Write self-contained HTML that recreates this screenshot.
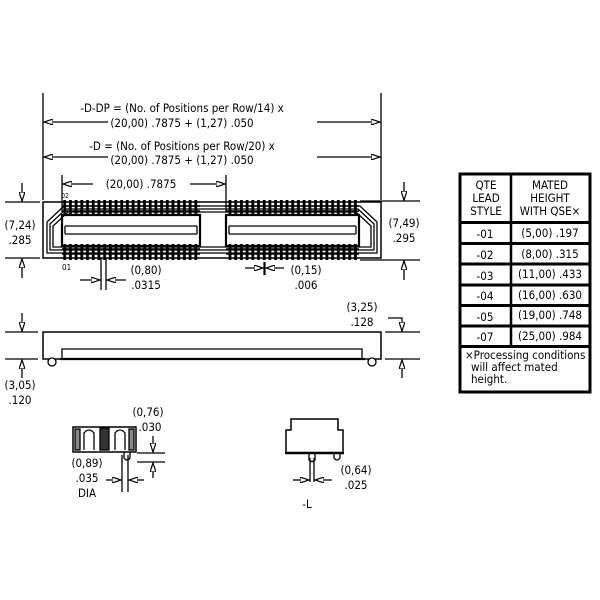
<!DOCTYPE html>
<html><head><meta charset="utf-8"><style>
html,body{margin:0;padding:0;background:#fff}
svg{display:block}
text{font-family:"DejaVu Sans Condensed","Liberation Sans Narrow","Liberation Sans",sans-serif;font-size:11.5px;fill:#000}
</style></head><body>
<svg width="600" height="600" viewBox="0 0 600 600" xmlns="http://www.w3.org/2000/svg">
<defs>
<marker id="a" markerWidth="10" markerHeight="6" refX="9" refY="3" orient="auto" markerUnits="userSpaceOnUse">
<path d="M0,0 L9,3 L0,6 Z" fill="#fff" stroke="#000" stroke-width="1.2"/></marker>
<pattern id="pins" x="62" y="0" width="5.7" height="10" patternUnits="userSpaceOnUse">
<rect x="1.3" y="0" width="2.8" height="10" fill="#000"/></pattern>
<pattern id="dots" x="62" y="0" width="6" height="10" patternUnits="userSpaceOnUse">
<circle cx="3" cy="359" r="1.8" fill="#000"/></pattern>
</defs>
<g stroke="#000" fill="none" stroke-width="1.3">
<line x1="43" y1="93" x2="43" y2="200"/>
<line x1="381" y1="93" x2="381" y2="200"/>
<line x1="108" y1="122" x2="44" y2="122" marker-end="url(#a)"/>
<line x1="317" y1="122" x2="380" y2="122" marker-end="url(#a)"/>
<line x1="108" y1="157" x2="44" y2="157" marker-end="url(#a)"/>
<line x1="317" y1="157" x2="380" y2="157" marker-end="url(#a)"/>
<line x1="62" y1="175" x2="62" y2="212"/>
<line x1="226" y1="175" x2="226" y2="212"/>
<line x1="93" y1="184" x2="63" y2="184" marker-end="url(#a)"/>
<line x1="190" y1="184" x2="225" y2="184" marker-end="url(#a)"/>
<rect x="43" y="202" width="338" height="56" stroke-width="1.5"/>
<path d="M47,253 V222 L64,206 H360 L377,222 V253 Z"/>
<path d="M50,250 V224 L66,209 H358 L374,224 V250 Z"/>
<path d="M53,247 V226 L68,212 H356 L371,226 V247 Z"/>
<rect x="62" y="200" width="138" height="16" fill="url(#pins)" stroke="none"/>
<rect x="62" y="244" width="138" height="16" fill="url(#pins)" stroke="none"/>
<rect x="226" y="200" width="133" height="16" fill="url(#pins)" stroke="none"/>
<rect x="226" y="244" width="133" height="16" fill="url(#pins)" stroke="none"/>
<line x1="62" y1="206" x2="200" y2="206" stroke-width="1.5"/>
<line x1="62" y1="211" x2="200" y2="211" stroke-width="1.5"/>
<line x1="62" y1="249" x2="200" y2="249" stroke-width="1.5"/>
<line x1="62" y1="254" x2="200" y2="254" stroke-width="1.5"/>
<line x1="226" y1="206" x2="359" y2="206" stroke-width="1.5"/>
<line x1="226" y1="211" x2="359" y2="211" stroke-width="1.5"/>
<line x1="226" y1="249" x2="359" y2="249" stroke-width="1.5"/>
<line x1="226" y1="254" x2="359" y2="254" stroke-width="1.5"/>
<rect x="62" y="215" width="138" height="31" stroke-width="2.2"/>
<rect x="226" y="215" width="133" height="31" stroke-width="2.2"/>
<path d="M65,226 H197 M65,234 H197 M65,226 V234 M197,226 V234"/>
<path d="M229,226 H356 M229,234 H356 M229,226 V234 M356,226 V234"/>
<line x1="5" y1="202" x2="40" y2="202"/>
<line x1="5" y1="258" x2="40" y2="258"/>
<line x1="22" y1="183" x2="22" y2="201" marker-end="url(#a)"/>
<line x1="22" y1="278" x2="22" y2="259" marker-end="url(#a)"/>
<line x1="360" y1="201" x2="420" y2="201"/>
<line x1="360" y1="260" x2="420" y2="260"/>
<line x1="404" y1="182" x2="404" y2="200" marker-end="url(#a)"/>
<line x1="404" y1="280" x2="404" y2="261" marker-end="url(#a)"/>
<line x1="101" y1="258" x2="101" y2="290"/>
<line x1="106" y1="258" x2="106" y2="290"/>
<line x1="80" y1="280" x2="100" y2="280" marker-end="url(#a)"/>
<line x1="126" y1="280" x2="107" y2="280" marker-end="url(#a)"/>
<line x1="245" y1="268" x2="263" y2="268" marker-end="url(#a)"/>
<line x1="284" y1="268" x2="266" y2="268" marker-end="url(#a)"/>
<line x1="264.5" y1="262" x2="264.5" y2="275" stroke-width="2.2"/>
<rect x="43" y="332" width="338" height="27" stroke-width="1.5"/>
<path d="M62,359 V349 H362 V359"/>
<rect x="62" y="355" width="300" height="8" fill="url(#dots)" stroke="none"/>
<circle cx="52" cy="362" r="4" fill="#fff"/>
<circle cx="372" cy="362" r="4" fill="#fff"/>
<line x1="60" y1="359" x2="365" y2="359" stroke-width="2.2"/>
<line x1="5" y1="332" x2="38" y2="332"/>
<line x1="5" y1="359" x2="38" y2="359"/>
<line x1="22" y1="313" x2="22" y2="331" marker-end="url(#a)"/>
<line x1="22" y1="378" x2="22" y2="360" marker-end="url(#a)"/>
<line x1="385" y1="332" x2="420" y2="332"/>
<line x1="385" y1="359" x2="420" y2="359"/>
<path d="M388,318 H402 V331" marker-end="url(#a)"/>
<line x1="402" y1="378" x2="402" y2="360" marker-end="url(#a)"/>
<rect x="73" y="427" width="63" height="25" stroke-width="1.5"/>
<rect x="75" y="429" width="5" height="21" fill="#888"/>
<rect x="129" y="429" width="5" height="21" fill="#888"/>
<rect x="100" y="428" width="9" height="22" fill="#333"/>
<path d="M84,450 V433 Q89,427 94,433 V450 M115,450 V433 Q120,427 125,433 V450"/>
<path d="M124,452 V458 Q127,462 130,458 V452"/>
<line x1="137" y1="453" x2="165" y2="453"/>
<line x1="137" y1="462" x2="165" y2="462"/>
<line x1="153" y1="436" x2="153" y2="452" marker-end="url(#a)"/>
<line x1="153" y1="478" x2="153" y2="463" marker-end="url(#a)"/>
<line x1="122" y1="455" x2="122" y2="492"/>
<line x1="128" y1="455" x2="128" y2="492"/>
<line x1="106" y1="480" x2="121" y2="480" marker-end="url(#a)"/>
<line x1="144" y1="480" x2="129" y2="480" marker-end="url(#a)"/>
<path d="M286,453 V430 H291 V419 H338 V430 H343 V453 Z" stroke-width="1.5"/>
<line x1="285" y1="453" x2="344" y2="453" stroke-width="2.4"/>
<path d="M309,453 V460 Q312,463 315,460 V453"/>
<path d="M334,453 V458 Q337,462 340,458 V453"/>
<line x1="310" y1="458" x2="310" y2="482"/>
<line x1="314" y1="458" x2="314" y2="482"/>
<line x1="293" y1="480" x2="309" y2="480" marker-end="url(#a)"/>
<line x1="332" y1="480" x2="315" y2="480" marker-end="url(#a)"/>
<rect x="460" y="174" width="130" height="218" stroke-width="3"/>
<line x1="511" y1="174" x2="511" y2="346" stroke-width="2.5"/>
<g stroke-width="3">
<line x1="460" y1="222.5" x2="590" y2="222.5"/>
<line x1="460" y1="243.5" x2="590" y2="243.5"/>
<line x1="460" y1="264" x2="590" y2="264"/>
<line x1="460" y1="285" x2="590" y2="285"/>
<line x1="460" y1="305.5" x2="590" y2="305.5"/>
<line x1="460" y1="326" x2="590" y2="326"/>
<line x1="460" y1="346.5" x2="590" y2="346.5"/>
</g>
</g>
<g text-anchor="middle">
<text x="182" y="112">-D-DP = (No. of Positions per Row/14) x</text>
<text x="182" y="127">(20,00) .7875 + (1,27) .050</text>
<text x="182" y="150">-D = (No. of Positions per Row/20) x</text>
<text x="182" y="164">(20,00) .7875 + (1,27) .050</text>
<text x="141" y="188">(20,00) .7875</text>
<text x="20" y="229">(7,24)</text>
<text x="20" y="244">.285</text>
<text x="404" y="227">(7,49)</text>
<text x="404" y="242">.295</text>
<text x="146" y="274">(0,80)</text>
<text x="146" y="289">.0315</text>
<text x="306" y="274">(0,15)</text>
<text x="306" y="289">.006</text>
<text x="362" y="311">(3,25)</text>
<text x="362" y="326">.128</text>
<text x="20" y="389">(3,05)</text>
<text x="20" y="404">.120</text>
<text x="148" y="416">(0,76)</text>
<text x="150" y="431">.030</text>
<text x="87" y="467">(0,89)</text>
<text x="87" y="482">.035</text>
<text x="87" y="497">DIA</text>
<text x="356" y="474">(0,64)</text>
<text x="356" y="489">.025</text>
<text x="307" y="508">-L</text>
<g style="font-size:10.5px">
<text x="486" y="189">QTE</text>
<text x="486" y="202">LEAD</text>
<text x="486" y="215">STYLE</text>
<text x="550" y="189">MATED</text>
<text x="550" y="202">HEIGHT</text>
<text x="550" y="215">WITH QSE×</text>
</g>
<g style="font-size:12.5px">
<text x="485" y="238">-01</text>
<text x="485" y="259">-02</text>
<text x="485" y="280">-03</text>
<text x="485" y="300">-04</text>
<text x="485" y="321">-05</text>
<text x="485" y="341">-07</text>
</g>
<g style="font-size:10.5px">
<text x="550" y="237">(5,00) .197</text>
<text x="550" y="258">(8,00) .315</text>
<text x="550" y="278">(11,00) .433</text>
<text x="550" y="299">(16,00) .630</text>
<text x="550" y="319">(19,00) .748</text>
<text x="550" y="340">(25,00) .984</text>
</g>
</g>
<g style="font-size:10.5px">
<text x="465" y="359">×Processing conditions</text>
<text x="471" y="371">will affect mated</text>
<text x="471" y="383">height.</text>
<text x="61" y="198" style="font-size:7px">02</text>
<text x="62" y="270" style="font-size:8px">01</text>
</g>
</svg>
</body></html>
